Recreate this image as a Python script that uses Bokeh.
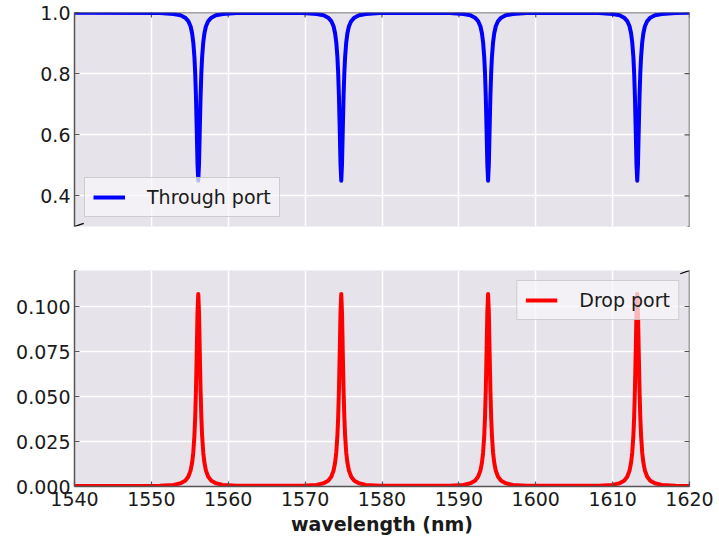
from bokeh.plotting import figure
from bokeh.layouts import column
from bokeh.models import (Range1d, FixedTicker, Legend, LegendItem, Arrow, Span,
                          PrintfTickFormatter)
from bokeh.embed import file_html
from bokeh.resources import INLINE

# ---- spectra of the add-drop ring: wavelength (nm) and port transmission ----
wavelength = [
    1540.0,
    1551.1, 1552.9, 1553.8, 1554.4, 1554.8, 1555.1, 1555.3, 1555.45, 1555.6, 1555.7, 1555.8,
    1555.9, 1556.0, 1556.1, 1556.2, 1556.3, 1556.4, 1556.5, 1556.6, 1556.75, 1556.9, 1557.1,
    1557.4, 1557.8, 1558.4, 1559.3, 1561.1,
    1569.7, 1571.5, 1572.4, 1573.0, 1573.4, 1573.7, 1573.9, 1574.05, 1574.2, 1574.3, 1574.4,
    1574.5, 1574.6, 1574.7, 1574.8, 1574.9, 1575.0, 1575.1, 1575.2, 1575.35, 1575.5, 1575.7,
    1576.0, 1576.4, 1577.0, 1577.9, 1579.7,
    1588.8, 1590.6, 1591.5, 1592.1, 1592.5, 1592.8, 1593.0, 1593.15, 1593.3, 1593.4, 1593.5,
    1593.6, 1593.7, 1593.8, 1593.9, 1594.0, 1594.1, 1594.2, 1594.3, 1594.45, 1594.6, 1594.8,
    1595.1, 1595.5, 1596.1, 1597.0, 1598.8,
    1608.2, 1610.0, 1610.9, 1611.5, 1611.9, 1612.2, 1612.4, 1612.55, 1612.7, 1612.8, 1612.9,
    1613.0, 1613.1, 1613.2, 1613.3, 1613.4, 1613.5, 1613.6, 1613.7, 1613.85, 1614.0, 1614.2,
    1614.5, 1614.9, 1615.5, 1616.4, 1618.2,
    1620.0,
]

through_port = [
    0.999,
    0.998, 0.995, 0.991, 0.983, 0.972, 0.955, 0.932, 0.903, 0.854, 0.802, 0.725,
    0.619, 0.505, 0.450, 0.505, 0.619, 0.725, 0.802, 0.854, 0.903, 0.932, 0.955,
    0.972, 0.983, 0.991, 0.995, 0.998,
    0.998, 0.995, 0.991, 0.983, 0.972, 0.955, 0.932, 0.903, 0.854, 0.802, 0.725,
    0.619, 0.505, 0.450, 0.505, 0.619, 0.725, 0.802, 0.854, 0.903, 0.932, 0.955,
    0.972, 0.983, 0.991, 0.995, 0.998,
    0.998, 0.995, 0.991, 0.983, 0.972, 0.955, 0.932, 0.903, 0.854, 0.802, 0.725,
    0.619, 0.505, 0.450, 0.505, 0.619, 0.725, 0.802, 0.854, 0.903, 0.932, 0.955,
    0.972, 0.983, 0.991, 0.995, 0.998,
    0.998, 0.995, 0.991, 0.983, 0.972, 0.955, 0.932, 0.903, 0.854, 0.802, 0.725,
    0.619, 0.505, 0.450, 0.505, 0.619, 0.725, 0.802, 0.854, 0.903, 0.932, 0.955,
    0.972, 0.983, 0.991, 0.995, 0.998,
    0.999,
]

drop_port = [
    0.0003,
    0.0004, 0.0009, 0.0018, 0.0032, 0.0054, 0.0088, 0.0132, 0.0188, 0.0283, 0.0385, 0.0535,
    0.0741, 0.0963, 0.1070, 0.0963, 0.0741, 0.0535, 0.0385, 0.0283, 0.0188, 0.0132, 0.0088,
    0.0054, 0.0032, 0.0018, 0.0009, 0.0004,
    0.0004, 0.0009, 0.0018, 0.0032, 0.0054, 0.0088, 0.0132, 0.0188, 0.0283, 0.0385, 0.0535,
    0.0741, 0.0963, 0.1070, 0.0963, 0.0741, 0.0535, 0.0385, 0.0283, 0.0188, 0.0132, 0.0088,
    0.0054, 0.0032, 0.0018, 0.0009, 0.0004,
    0.0004, 0.0009, 0.0018, 0.0032, 0.0054, 0.0088, 0.0132, 0.0188, 0.0283, 0.0385, 0.0535,
    0.0741, 0.0963, 0.1070, 0.0963, 0.0741, 0.0535, 0.0385, 0.0283, 0.0188, 0.0132, 0.0088,
    0.0054, 0.0032, 0.0018, 0.0009, 0.0004,
    0.0004, 0.0009, 0.0018, 0.0032, 0.0054, 0.0088, 0.0132, 0.0188, 0.0283, 0.0385, 0.0535,
    0.0741, 0.0963, 0.1070, 0.0963, 0.0741, 0.0535, 0.0385, 0.0283, 0.0188, 0.0132, 0.0088,
    0.0054, 0.0032, 0.0018, 0.0009, 0.0004,
    0.0003,
]

x_limits = (1540, 1620)
through_limits = (0.3, 1.0)
drop_limits = (0.0, 0.12)
x_ticks = [1540, 1550, 1560, 1570, 1580, 1590, 1600, 1610, 1620]
through_ticks = [0.4, 0.6, 0.8, 1.0]
drop_ticks = [0.0, 0.025, 0.05, 0.075, 0.1]

# ---- styling ----
FONT = "DejaVu Sans"
FONT_SIZE = "19px"
PLOT_BG = "#e7e3ea"
SPINE = "#555555"
TEXT = "#1a1a1a"
W = 719
BORDER_L, BORDER_R = 74, 30
FRAME_W = W - BORDER_L - BORDER_R
TICK_PX = 5
LINE_W = 4


def style_axis(ax, ticks, fmt):
    ax.ticker = FixedTicker(ticks=ticks)
    ax.formatter = PrintfTickFormatter(format=fmt)
    ax.axis_line_color = SPINE
    ax.axis_line_width = 1.5
    ax.major_tick_line_color = SPINE
    ax.major_tick_line_width = 1.2
    ax.major_tick_in = TICK_PX
    ax.major_tick_out = 0
    ax.minor_tick_line_color = None
    ax.major_label_text_font = FONT
    ax.major_label_text_font_size = FONT_SIZE
    ax.major_label_text_color = TEXT


def make_panel(height, y_limits, y_ticks, y_fmt, top, bottom, x_loc):
    p = figure(width=W, height=height,
               x_range=Range1d(*x_limits), y_range=Range1d(*y_limits),
               output_backend="svg", toolbar_location=None,
               x_axis_location=x_loc,
               min_border_left=BORDER_L, min_border_right=BORDER_R,
               min_border_top=top, min_border_bottom=bottom,
               background_fill_color=PLOT_BG, border_fill_color="white",
               outline_line_color=None)
    style_axis(p.yaxis[0], y_ticks, y_fmt)
    p.yaxis.major_label_standoff = 4
    p.grid.grid_line_color = "white"
    p.grid.grid_line_width = 1.6
    p.xgrid.ticker = FixedTicker(ticks=x_ticks)
    p.ygrid.ticker = FixedTicker(ticks=y_ticks)

    # right-hand spine with inward ticks
    frame_h = height - top - bottom
    p.add_layout(Span(location=x_limits[1], dimension="height",
                      line_color=SPINE, line_width=1.5))
    tick_dx = TICK_PX * (x_limits[1] - x_limits[0]) / FRAME_W
    p.segment(x0=[x_limits[1]] * len(y_ticks), y0=y_ticks,
              x1=[x_limits[1] - tick_dx] * len(y_ticks), y1=y_ticks,
              line_color=SPINE, line_width=1.2)
    return p, frame_h


def add_top_spine(p, y_limits, frame_h):
    p.add_layout(Span(location=y_limits[1], dimension="width",
                      line_color=SPINE, line_width=1.5))
    tick_dy = TICK_PX * (y_limits[1] - y_limits[0]) / frame_h
    p.segment(x0=x_ticks, y0=[y_limits[1]] * len(x_ticks),
              x1=x_ticks, y1=[y_limits[1] - tick_dy] * len(x_ticks),
              line_color=SPINE, line_width=1.2)


def add_break_marks(p, y_edge, y_limits, d=0.015):
    # short diagonal strokes at both ends of the cut edge
    dx = d * (x_limits[1] - x_limits[0])
    dy = d * (y_limits[1] - y_limits[0])
    for xe in x_limits:
        p.add_layout(Arrow(end=None, x_start=xe - dx, y_start=y_edge - dy,
                           x_end=xe + dx, y_end=y_edge + dy,
                           line_color="black", line_width=1.3))


def style_legend(lg):
    lg.label_text_font = FONT
    lg.label_text_font_size = FONT_SIZE
    lg.label_text_color = TEXT
    lg.glyph_width = 32
    lg.label_standoff = 22
    lg.padding = 8
    lg.spacing = 0
    lg.background_fill_color = "#f7f6f8"
    lg.background_fill_alpha = 0.75
    lg.border_line_color = "#a8a8a8"
    lg.border_line_width = 1.2


# ---- upper panel: through port ----
top, top_h = make_panel(248, through_limits, through_ticks, "%.1f", 12, 22, None)
add_top_spine(top, through_limits, top_h)
r_thru = top.line(wavelength, through_port, line_color="#0000ff",
                  line_width=LINE_W, line_join="round")
add_break_marks(top, through_limits[0], through_limits)
lg_top = Legend(items=[LegendItem(label="Through port", renderers=[r_thru])],
                location=(10, 9))
style_legend(lg_top)
top.add_layout(lg_top)

# ---- lower panel: drop port ----
bot, bot_h = make_panel(298, drop_limits, drop_ticks, "%.3f", 22, 60, "below")
style_axis(bot.xaxis[0], x_ticks, "%d")
bot.xaxis.major_label_standoff = 5
bot.xaxis.axis_label = "wavelength (nm)"
bot.xaxis.axis_label_text_font = FONT
bot.xaxis.axis_label_text_font_size = FONT_SIZE
bot.xaxis.axis_label_text_font_style = "bold"
bot.xaxis.axis_label_text_color = TEXT
bot.xaxis.axis_label_standoff = 4
r_drop = bot.line(wavelength, drop_port, line_color="#ff0000",
                  line_width=LINE_W, line_join="round")
add_break_marks(bot, drop_limits[1], drop_limits)
lg_bot = Legend(items=[LegendItem(label="Drop port", renderers=[r_drop])],
                location="top_right", margin=10)
style_legend(lg_bot)
bot.add_layout(lg_bot)

layout = column(top, bot, spacing=0)
open("out.html", "w").write(file_html(layout, INLINE))
